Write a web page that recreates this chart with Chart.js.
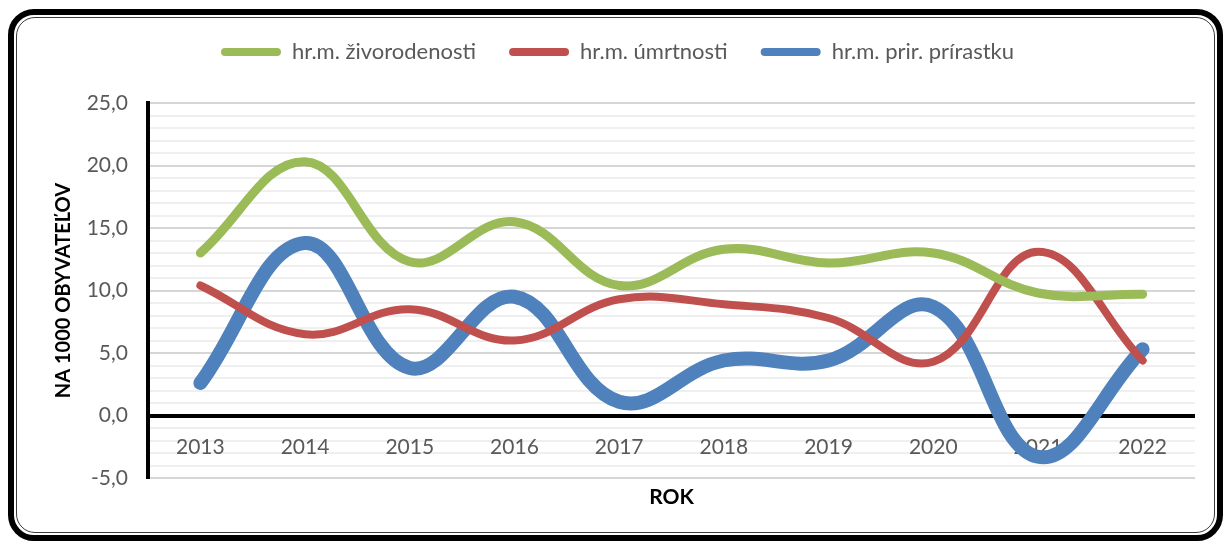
<!DOCTYPE html>
<html>
<head>
<meta charset="utf-8">
<script src="https://cdn.jsdelivr.net/npm/chart.js@4/dist/chart.umd.min.js"></script>
<style>
  html, body { margin: 0; padding: 0; background: #fff; }
  body { width: 1225px; height: 543px; position: relative; overflow: hidden; }
  #frame { position: absolute; left: 8px; top: 9px; width: 1215px; height: 532px; box-sizing: border-box;
           border: 6px solid #000; border-radius: 26px; }
  #frame2 { position: absolute; left: 2px; top: 2px; right: 2px; bottom: 2px;
            border: 1.5px solid #3a3a3a; border-radius: 19px; }
  #wrap { position: absolute; left: 0; top: 0; width: 1225px; height: 543px; }
</style>
</head>
<body>
<div id="frame"><div id="frame2"></div></div>
<div id="wrap"><canvas id="c" width="1225" height="543"></canvas></div>
<script>
// ---- data ----
const years = ['2013', '2014', '2015', '2016', '2017', '2018', '2019', '2020', '2021', '2022'];
const zivorodenost = [13.0, 20.3, 12.3, 15.5, 10.4, 13.3, 12.2, 13.0, 9.8, 9.7];
const umrtnost = [10.4, 6.5, 8.5, 6.0, 9.3, 8.9, 7.8, 4.3, 13.1, 4.4];
const prirastok = [2.6, 13.8, 3.8, 9.5, 1.1, 4.4, 4.4, 8.7, -3.3, 5.3];
const seriesNames = ['hr.m. živorodenosti', 'hr.m. úmrtnosti', 'hr.m. prir. prírastku'];
const yMin = -5, yMax = 25, yStep = 1, yLabelStep = 5;
const yTitle = 'NA 1000 OBYVATEĽOV';
const xTitle = 'ROK';

const FONT = 'Lato';
const GREY = '#595959';

const xLabelPlugin = {
  id: 'xLabels',
  beforeDatasetsDraw(chart) {
    const { ctx, scales: { x, y } } = chart;
    const yPix = y.getPixelForValue(0) + 32;
    ctx.save();
    ctx.font = '21px ' + FONT;
    ctx.fillStyle = GREY;
    ctx.textAlign = 'center';
    ctx.textBaseline = 'middle';
    years.forEach((lab, i) => ctx.fillText(lab, x.getPixelForValue(i), yPix));
    ctx.restore();
  }
};

function ds(label, data, color, width) {
  return {
    label, data,
    borderColor: color, backgroundColor: color,
    borderWidth: width, pointRadius: 0, pointHoverRadius: 0,
    tension: 0.4, borderCapStyle: 'round', borderJoinStyle: 'round', fill: false
  };
}

new Chart(document.getElementById('c'), {
  type: 'line',
  data: {
    labels: years,
    datasets: [
      ds(seriesNames[0], zivorodenost, '#9BBB59', 9),
      ds(seriesNames[1], umrtnost, '#C0504D', 8),
      ds(seriesNames[2], prirastok, '#4F81BD', 14)
    ]
  },
  options: {
    responsive: false,
    animation: false,
    events: [],
    layout: { padding: { top: 8, left: 40, right: 30, bottom: 0 } },
    plugins: {
      tooltip: { enabled: false },
      legend: {
        position: 'top',
        labels: {
          boxWidth: 60, boxHeight: 8, padding: 33,
          color: GREY, font: { family: FONT, size: 22 },
          useBorderRadius: true, borderRadius: 4,
          generateLabels(chart) {
            return Chart.defaults.plugins.legend.labels.generateLabels(chart).map(l => {
              l.fillStyle = l.strokeStyle; l.lineWidth = 0; return l;
            });
          }
        }
      }
    },
    scales: {
      x: {
        type: 'category', position: 'bottom', offset: true,
        grid: { display: false }, border: { display: false },
        ticks: { display: false },
        title: { display: true, text: xTitle, color: '#000', font: { family: FONT, size: 21, weight: 'bold' }, padding: { top: 0, bottom: 33 } },
        afterFit(s) { s.height = 65; }
      },
      x2: {
        type: 'category', position: 'top', offset: true,
        grid: { display: false }, border: { display: false },
        ticks: { display: false },
        afterFit(s) { s.height = 30; }
      },
      y: {
        min: yMin, max: yMax,
        ticks: {
          stepSize: yStep, autoSkip: false, padding: 20,
          color: GREY, font: { family: FONT, size: 21 },
          callback: v => (Math.round(v) % yLabelStep === 0) ? v.toFixed(1).replace('.', ',') : ''
        },
        grid: {
          drawTicks: false,
          color: c => c.tick.value === 0 ? '#000' : (c.tick.value % 5 === 0 ? '#d6d6d6' : '#efefef'),
          lineWidth: c => c.tick.value === 0 ? 4 : 2
        },
        border: { display: true, color: '#000', width: 4 },
        title: { display: true, text: yTitle, color: '#000', font: { family: FONT, size: 20, weight: 'bold' }, padding: { top: 12, bottom: 0 } },
        afterFit(s) { s.width = 108; }
      }
    }
  },
  plugins: [xLabelPlugin]
});
</script>
</body>
</html>
